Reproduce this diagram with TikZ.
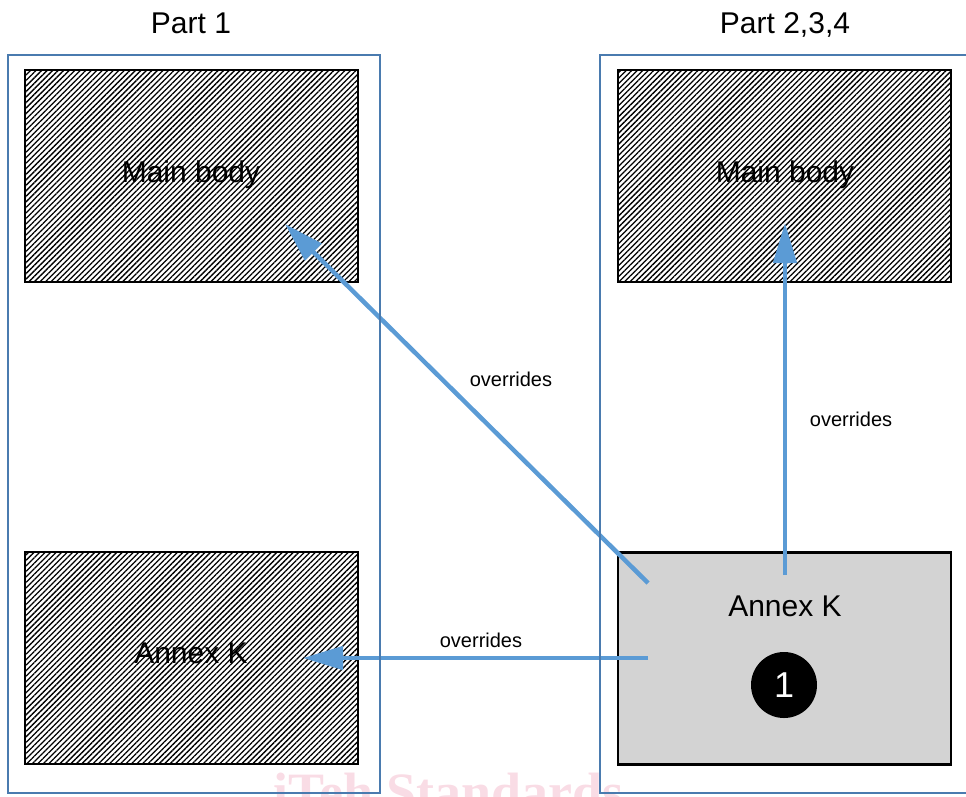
\documentclass[tikz,border=0pt]{standalone}
\usepackage{fontspec}
\setmainfont{Liberation Sans}
\newfontfamily\wmfont{Liberation Serif}
\usetikzlibrary{arrows.meta,patterns.meta}
\definecolor{framecol}{HTML}{4A7BAF}
\definecolor{arrowcol}{HTML}{5B9BD5}
\definecolor{annexgray}{HTML}{D3D3D3}
\definecolor{wmpink}{HTML}{F9DCE5}

\begin{document}
\begin{tikzpicture}[x=1pt,y=-1pt,
  partframe/.style={draw=framecol,line width=2pt,inner sep=0pt,minimum height=738pt},
  boxbase/.style={draw=black,line width=2.5pt,inner sep=0pt,minimum width=333pt,minimum height=212pt},
  hatchbox/.style={boxbase,pattern={Lines[angle=45,distance=3.9pt,line width=1.3pt]},pattern color=black},
  graybox/.style={boxbase,fill=annexgray},
  title/.style={anchor=base,font=\fontsize{30}{36}\selectfont},
  boxtext/.style={anchor=base,font=\fontsize{30}{36}\selectfont},
  lbl/.style={anchor=base,font=\fontsize{20}{24}\selectfont},
  override/.style={draw=arrowcol,line width=4.5pt,-{Triangle[length=40pt,width=23pt]}},
  badge/.style={circle,fill=black,minimum size=66pt,inner sep=0pt,text=white,font=\fontsize{36}{40}\selectfont}
]
\useasboundingbox (0,0) rectangle (966,796);

% faint watermark along the bottom edge
\begin{scope}
  \clip (0,0) rectangle (966,796);
  \node[anchor=base west,inner sep=0pt,text=wmpink,font=\wmfont\bfseries\fontsize{54}{60}\selectfont] (wm) at (273,810) {iTeh Standards};
\end{scope}

% document parts
\node[hatchbox] (mb1) at (191.5,176) {};
\node[hatchbox] (ak1) at (191.5,658) {};
\node[hatchbox] (mb2) at (784.5,176) {};
\node[graybox] (ak2) at (784.5,658.5) {};

% override arrows
\coordinate (d1s) at (648,583);
\coordinate (d1e) at (285,224);
\coordinate (v1s) at (785,575);
\coordinate (v1e) at (785,223);
\coordinate (h1s) at (648,658);
\coordinate (h1e) at (303,658);
\draw[override] (d1s) -- (d1e);
\draw[override] (v1s) -- (v1e);
\draw[override] (h1s) -- (h1e);

% part frames
\node[partframe,minimum width=372pt] (f1) at (194,424) {};
\node[partframe,minimum width=368pt] (f2) at (784,424) {};

% titles
\node[title] (t1) at (191,33) {Part 1};
\node[title] (t2) at (785,33) {Part 2,3,4};

% box texts
\node[boxtext] (mbt1) at (191,182) {Main body};
\node[boxtext] (mbt2) at (785,182) {Main body};
\node[boxtext] (akt1) at (191,663) {Annex K};
\node[boxtext] (akt2) at (785,616) {Annex K};
\node[badge] (n1) at (784,685) {1};

% arrow labels
\node[lbl] (l1) at (511,386) {overrides};
\node[lbl] (l2) at (851,426) {overrides};
\node[lbl] (l3) at (481,647) {overrides};
\end{tikzpicture}
\end{document}
